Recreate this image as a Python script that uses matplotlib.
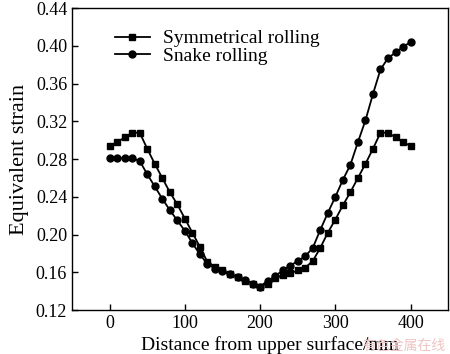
import numpy as np
import matplotlib
matplotlib.use("Agg")
import matplotlib.pyplot as plt

plt.rcParams['font.family'] = ['Liberation Serif', 'DejaVu Serif']
plt.rcParams['mathtext.fontset'] = 'stix'

# distance from upper surface (mm)
dist = list(range(0, 401, 10))

sym = [0.294, 0.298, 0.303, 0.308, 0.308, 0.291, 0.275, 0.260, 0.245, 0.232,
       0.217, 0.202, 0.187, 0.171, 0.166, 0.162, 0.158, 0.155, 0.151, 0.148,
       0.145, 0.148, 0.154, 0.157, 0.159, 0.162, 0.165, 0.172, 0.186, 0.202,
       0.216, 0.231, 0.245, 0.260, 0.275, 0.291, 0.308, 0.308, 0.303, 0.298,
       0.294]

snake = [0.281, 0.281, 0.281, 0.281, 0.278, 0.264, 0.251, 0.238, 0.226, 0.215,
         0.204, 0.191, 0.179, 0.169, 0.164, 0.161, 0.158, 0.155, 0.152, 0.148,
         0.145, 0.151, 0.156, 0.162, 0.167, 0.172, 0.177, 0.186, 0.205, 0.223,
         0.240, 0.258, 0.274, 0.298, 0.321, 0.349, 0.375, 0.387, 0.393, 0.399,
         0.404]

xticks = [0, 100, 200, 300, 400]
yticks = [0.12, 0.16, 0.20, 0.24, 0.28, 0.32, 0.36, 0.40, 0.44]

fig = plt.figure(figsize=(4.5, 3.54), dpi=100)
ax = fig.add_axes([0.16, 0.124, 0.836, 0.853])

ax.plot(dist, sym, color='black', lw=1.3, marker='s', ms=4.8, label='Symmetrical rolling')
ax.plot(dist, snake, color='black', lw=1.3, marker='o', ms=5, label='Snake rolling')

ax.set_xlim(-50, 450)
ax.set_ylim(0.12, 0.44)
ax.set_xticks(xticks)
ax.set_yticks(yticks)
ax.set_yticklabels(['%.2f' % v for v in yticks])
ax.tick_params(direction='in', length=4, width=1, labelsize=13, top=False, right=False)
for s in ax.spines.values():
    s.set_linewidth(1)

ax.set_xlabel('Distance from upper surface/mm', fontsize=14, labelpad=0)
ax.xaxis.set_label_coords(0.527, -0.085)
ax.set_ylabel('Equivalent strain', fontsize=16, labelpad=5)

ax.legend(loc='upper left', bbox_to_anchor=(0.114, 0.928), frameon=False,
          fontsize=14, handlelength=1.8, handletextpad=0.65, labelspacing=0.0,
          borderaxespad=0, borderpad=0)

fig.text(0.99, 0.003, '有色金属在线', family=['Noto Sans CJK SC', 'DejaVu Sans'],
         fontsize=10, color='#eec4c4', ha='right', va='bottom')

fig.savefig('out.png', dpi=100)
